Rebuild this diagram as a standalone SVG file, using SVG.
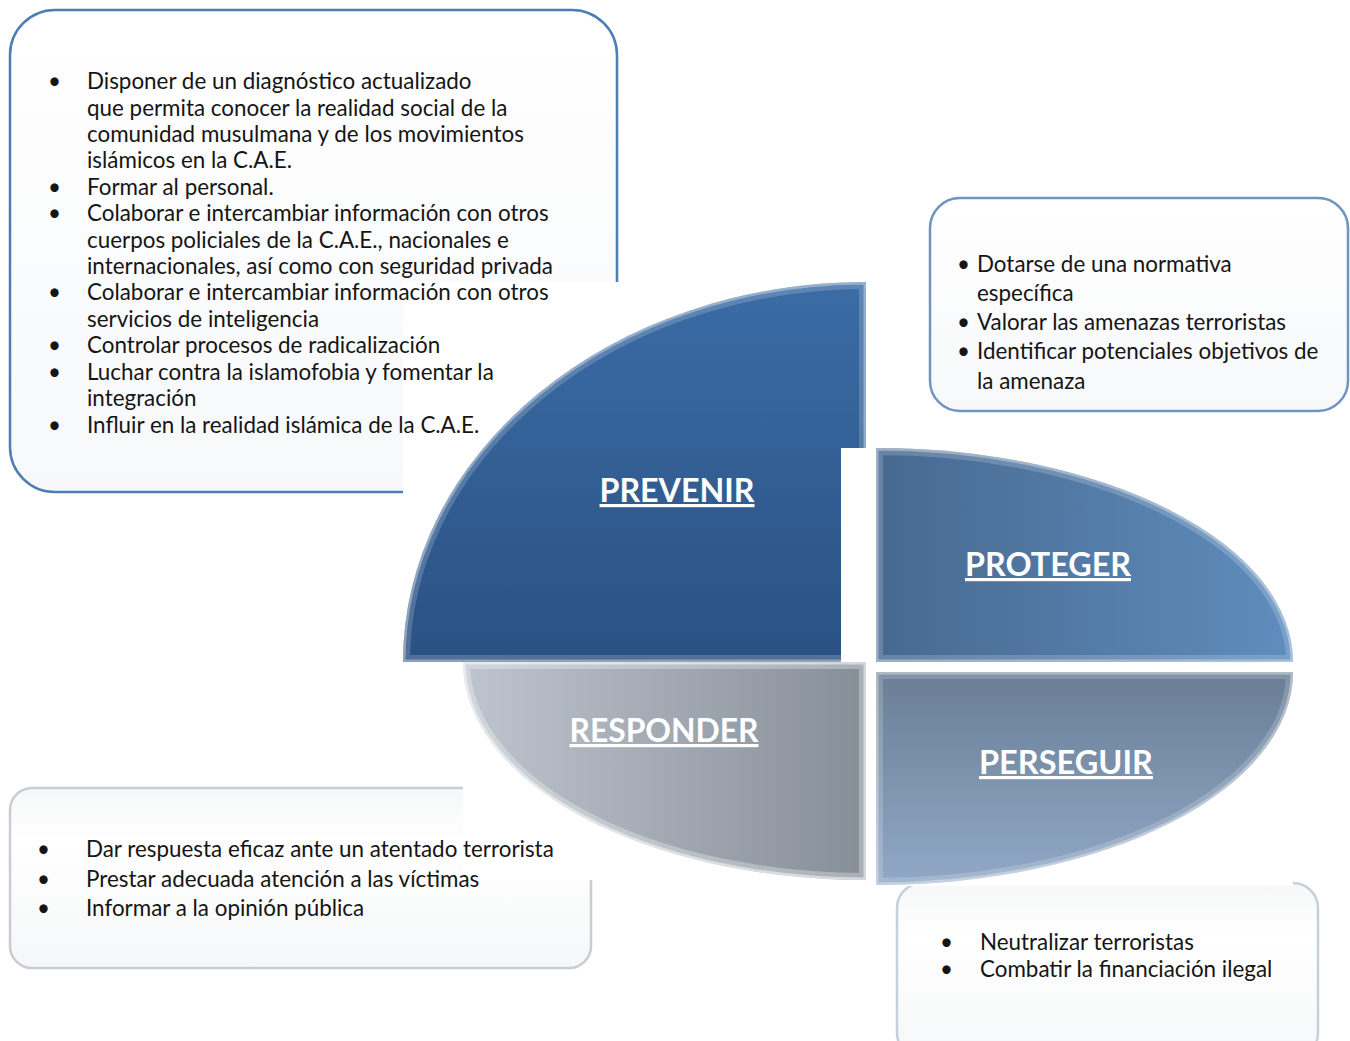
<svg xmlns="http://www.w3.org/2000/svg" width="1350" height="1041" viewBox="0 0 1350 1041">
<style>
.body{font-family:Lato,"Open Sans","Liberation Sans",sans-serif;font-size:22.4px;fill:#151515}
.title{font-family:Lato,"Open Sans","Liberation Sans",sans-serif;font-size:32px;font-weight:bold;fill:#fff;text-decoration:underline;text-anchor:middle}
.hl{fill:none;stroke:#fff}
</style>
<defs>
<linearGradient id="gBox" x1="0" y1="0" x2="0" y2="1"><stop offset="0" stop-color="#ffffff"/><stop offset="1" stop-color="#f7f8fa"/></linearGradient>
<linearGradient id="gBoxGrey" x1="0" y1="0" x2="0" y2="1"><stop offset="0" stop-color="#f6f7f8"/><stop offset="0.3" stop-color="#ffffff"/><stop offset="1" stop-color="#f6f7f8"/></linearGradient>
<linearGradient id="gPrev" x1="0" y1="0" x2="0" y2="1"><stop offset="0" stop-color="#3b6ca6"/><stop offset="1" stop-color="#2a5182"/></linearGradient>
<linearGradient id="gProt" x1="0" y1="0" x2="1" y2="0"><stop offset="0" stop-color="#476990"/><stop offset="1" stop-color="#5f8dbd"/></linearGradient>
<linearGradient id="gPers" x1="0" y1="0" x2="0" y2="1"><stop offset="0" stop-color="#697d95"/><stop offset="1" stop-color="#91a9c7"/></linearGradient>
<linearGradient id="gResp" x1="0" y1="0" x2="1" y2="0"><stop offset="0" stop-color="#bec5ce"/><stop offset="1" stop-color="#868e98"/></linearGradient>
<clipPath id="cBox1"><rect x="0" y="0" width="1350" height="282"/><rect x="0" y="0" width="403" height="1041"/></clipPath>
<clipPath id="cBox3"><rect x="0" y="0" width="463" height="1041"/><rect x="0" y="880" width="1350" height="161"/></clipPath>
<clipPath id="cBox4"><rect x="0" y="0" width="876" height="1041"/><rect x="1293" y="0" width="57" height="1041"/><rect x="0" y="886" width="1350" height="155"/></clipPath>
<clipPath id="cPrev"><path d="M866,282 V662 H403 A463,380 0 0 1 866,282 Z"/></clipPath>
<clipPath id="cProt"><path d="M876,448 A417,214 0 0 1 1293,662 H876 Z"/></clipPath>
<clipPath id="cPers"><path d="M876,672 H1293 A417,213 0 0 1 876,885 Z"/></clipPath>
<clipPath id="cResp"><path d="M463,662 H866 V880 A403,218 0 0 1 463,662 Z"/></clipPath>
</defs>

<g id="box-prevenir">
<rect x="10" y="10" width="607" height="482" rx="45" fill="url(#gBox)" stroke="#4d7db5" stroke-width="2.5" clip-path="url(#cBox1)"/>
<text class="body">
<tspan x="48" y="89">•</tspan><tspan x="87" y="89">Disponer de un diagnóstico actualizado</tspan>
<tspan x="87" y="116">que permita conocer la realidad social de la</tspan>
<tspan x="87" y="142">comunidad musulmana y de los movimientos</tspan>
<tspan x="87" y="168">islámicos en la C.A.E.</tspan>
<tspan x="48" y="195">•</tspan><tspan x="87" y="195">Formar al personal.</tspan>
<tspan x="48" y="221">•</tspan><tspan x="87" y="221">Colaborar e intercambiar información con otros</tspan>
<tspan x="87" y="248">cuerpos policiales de la C.A.E., nacionales e</tspan>
<tspan x="87" y="274">internacionales, así como con seguridad privada</tspan>
<tspan x="48" y="300">•</tspan><tspan x="87" y="300">Colaborar e intercambiar información con otros</tspan>
<tspan x="87" y="327">servicios de inteligencia</tspan>
<tspan x="48" y="353">•</tspan><tspan x="87" y="353">Controlar procesos de radicalización</tspan>
<tspan x="48" y="380">•</tspan><tspan x="87" y="380">Luchar contra la islamofobia y fomentar la</tspan>
<tspan x="87" y="406">integración</tspan>
<tspan x="48" y="433">•</tspan><tspan x="87" y="433">Influir en la realidad islámica de la C.A.E.</tspan>
</text>
</g>

<g id="box-proteger">
<rect x="930" y="198" width="418" height="213" rx="30" fill="url(#gBox)" stroke="#6f94c2" stroke-width="2.5"/>
<text class="body">
<tspan x="957" y="272">•</tspan><tspan x="977" y="272">Dotarse de una normativa</tspan>
<tspan x="977" y="301">específica</tspan>
<tspan x="957" y="330">•</tspan><tspan x="977" y="330">Valorar las amenazas terroristas</tspan>
<tspan x="957" y="359">•</tspan><tspan x="977" y="359">Identificar potenciales objetivos de</tspan>
<tspan x="977" y="389">la amenaza</tspan>
</text>
</g>

<g id="box-responder">
<rect x="10" y="788" width="581" height="180" rx="22" fill="url(#gBoxGrey)" stroke="#c9cdd3" stroke-width="2.5" clip-path="url(#cBox3)"/>
<text class="body">
<tspan x="37" y="857">•</tspan><tspan x="86" y="857">Dar respuesta eficaz ante un atentado terrorista</tspan>
<tspan x="37" y="887">•</tspan><tspan x="86" y="887">Prestar adecuada atención a las víctimas</tspan>
<tspan x="37" y="916">•</tspan><tspan x="86" y="916">Informar a la opinión pública</tspan>
</text>
</g>

<g id="box-perseguir">
<rect x="897" y="883" width="421" height="175" rx="25" fill="url(#gBoxGrey)" stroke="#c6d0dc" stroke-width="2.5" clip-path="url(#cBox4)"/>
<text class="body">
<tspan x="940" y="950">•</tspan><tspan x="980" y="950">Neutralizar terroristas</tspan>
<tspan x="940" y="977">•</tspan><tspan x="980" y="977">Combatir la financiación ilegal</tspan>
</text>
</g>

<g id="prevenir">
<path d="M866,282 V662 H403 A463,380 0 0 1 866,282 Z" fill="url(#gPrev)"/>
<path d="M866,282 V662 H403 A463,380 0 0 1 866,282 Z" class="hl" stroke-opacity="0.18" stroke-width="14" clip-path="url(#cPrev)"/>
<path d="M866,282 V662 H403 A463,380 0 0 1 866,282 Z" class="hl" stroke-opacity="0.35" stroke-width="5" clip-path="url(#cPrev)"/>
<text class="title" x="677" y="502" textLength="155" lengthAdjust="spacingAndGlyphs">PREVENIR</text>
</g>

<g id="proteger">
<rect x="841" y="448" width="35" height="214" fill="#fff"/>
<path d="M876,448 A417,214 0 0 1 1293,662 H876 Z" fill="url(#gProt)"/>
<path d="M876,448 A417,214 0 0 1 1293,662 H876 Z" class="hl" stroke-opacity="0.18" stroke-width="14" clip-path="url(#cProt)"/>
<path d="M876,448 A417,214 0 0 1 1293,662 H876 Z" class="hl" stroke-opacity="0.35" stroke-width="5" clip-path="url(#cProt)"/>
<text class="title" x="1048" y="576" textLength="166" lengthAdjust="spacingAndGlyphs">PROTEGER</text>
</g>

<g id="responder">
<path d="M463,662 H866 V880 A403,218 0 0 1 463,662 Z" fill="url(#gResp)"/>
<path d="M463,662 H866 V880 A403,218 0 0 1 463,662 Z" class="hl" stroke-opacity="0.3" stroke-width="14" clip-path="url(#cResp)"/>
<path d="M463,662 H866 V880 A403,218 0 0 1 463,662 Z" class="hl" stroke-opacity="0.5" stroke-width="5" clip-path="url(#cResp)"/>
<text class="title" x="664" y="742" textLength="189" lengthAdjust="spacingAndGlyphs">RESPONDER</text>
</g>

<g id="perseguir">
<path d="M876,672 H1293 A417,213 0 0 1 876,885 Z" fill="url(#gPers)"/>
<path d="M876,672 H1293 A417,213 0 0 1 876,885 Z" class="hl" stroke-opacity="0.18" stroke-width="14" clip-path="url(#cPers)"/>
<path d="M876,672 H1293 A417,213 0 0 1 876,885 Z" class="hl" stroke-opacity="0.35" stroke-width="5" clip-path="url(#cPers)"/>
<text class="title" x="1066" y="774" textLength="174" lengthAdjust="spacingAndGlyphs">PERSEGUIR</text>
</g>

<g id="connectors"/>
</svg>
